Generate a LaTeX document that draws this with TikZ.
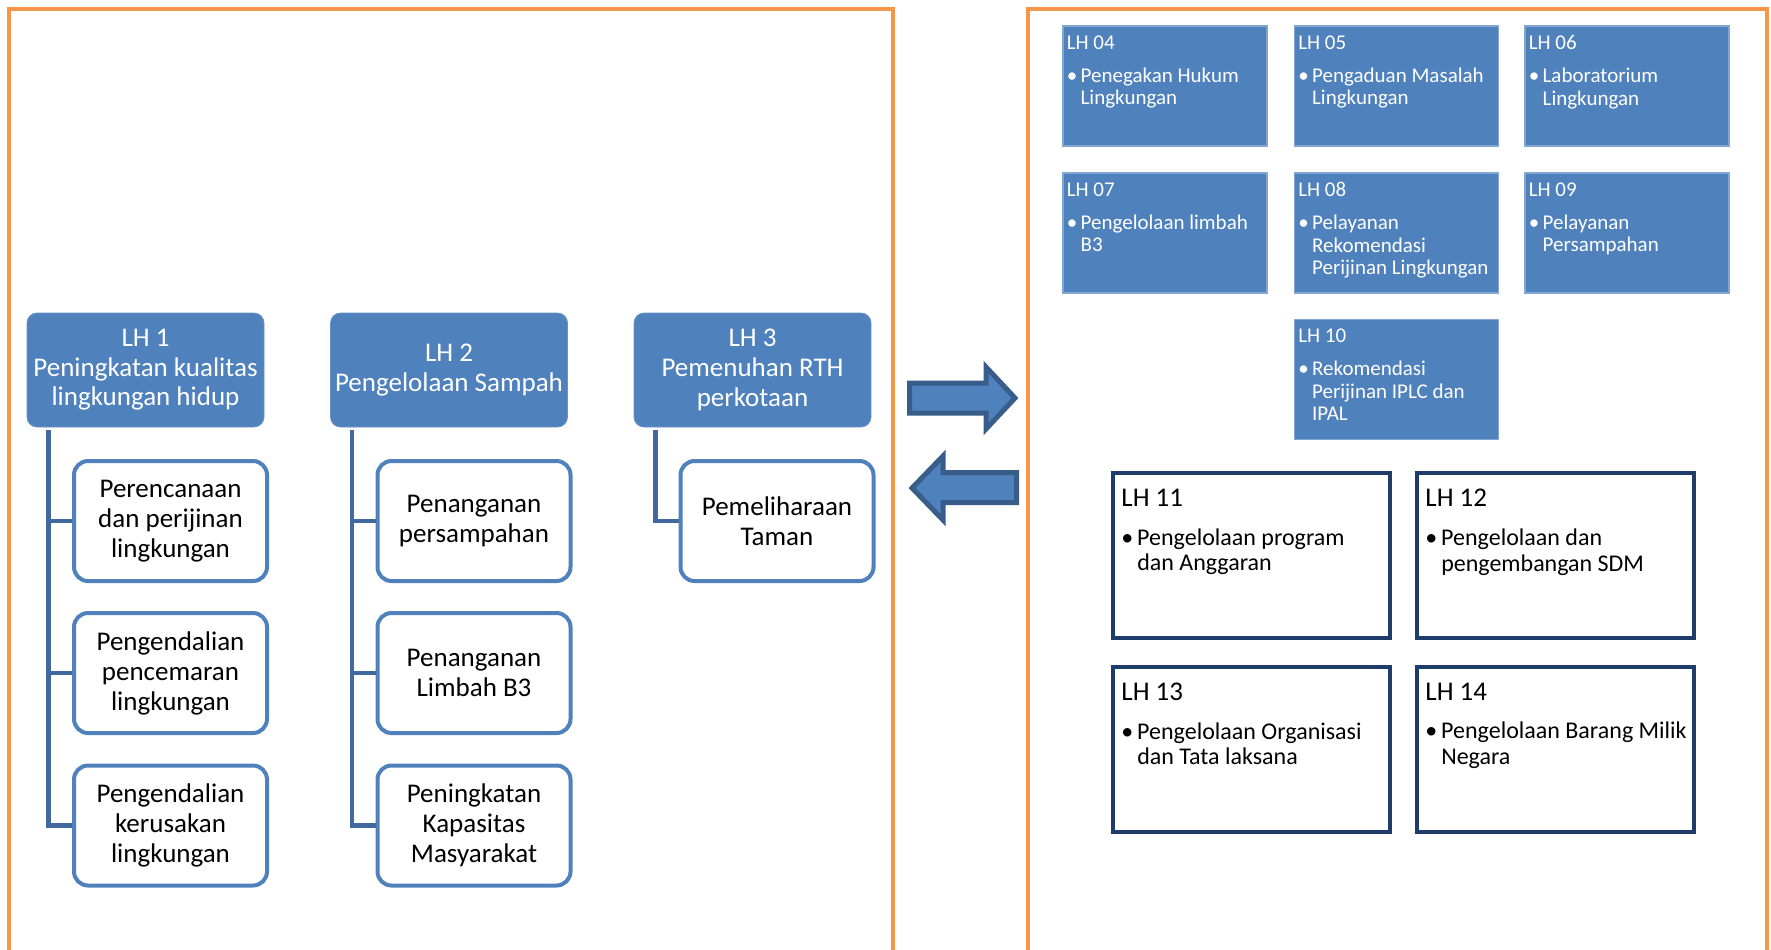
\documentclass[tikz,border=0pt]{standalone}
\usepackage{fontspec}
\setmainfont{Carlito}
\usetikzlibrary{positioning}

\definecolor{lhblue}{HTML}{4F81BD}
\definecolor{lhline}{HTML}{41699E}
\definecolor{lhnavy}{HTML}{1F3D6B}
\definecolor{lhdark}{HTML}{385D8A}
\definecolor{lhorange}{HTML}{F79646}

\newcommand{\lhitem}[1]{\makebox[0.66em][l]{\textbullet}\begin{tabular}[t]{@{}l@{}}#1\end{tabular}}

\tikzset{
  panel/.style={draw=lhorange, line width=2pt},
  headbox/.style={fill=lhblue, draw=lhblue!85!white, rounded corners=5pt, text=white, align=center,
    minimum width=118.5pt, minimum height=57pt, inner sep=0pt, font=\fontsize{13.5}{14.8}\selectfont},
  subbox/.style={draw=lhblue, line width=2pt, fill=white, rounded corners=7pt, align=center,
    minimum width=96.5pt, minimum height=60pt, inner sep=0pt, font=\fontsize{13.5}{15}\selectfont},
  treeline/.style={draw=lhline, line width=2.3pt},
  unitbox/.style={fill=lhblue, draw=lhblue!70!white, line width=0.6pt, minimum width=102pt, minimum height=60pt},
  unittext/.style={anchor=north west, text=white, align=left, inner sep=0pt, font=\fontsize{10.5}{11.3}\selectfont},
  bigbox/.style={draw=lhnavy, line width=2pt, fill=white, minimum width=138.5pt, minimum height=82.5pt},
  bigtext/.style={anchor=north west, align=left, inner sep=0pt, font=\fontsize{12}{12.8}\selectfont},
  blockarrow/.style={fill=lhblue, draw=lhdark, line width=2.5pt, line join=miter}
}

\begin{document}
\begin{tikzpicture}[x=0.5pt,y=-0.5pt]
\useasboundingbox (0,0) rectangle (1771,949);

% the two orange panels
\draw[panel] (9,960) -- (9,9) -- (893,9) -- (893,960);
\draw[panel] (1028,960) -- (1028,9) -- (1767,9) -- (1767,960);

% left panel: LH 1 .. LH 3
\node[headbox] (h1) at (145.5,370) {LH 1\\Peningkatan kualitas\\lingkungan hidup};
\node[headbox] (h2) at (449,370) {LH 2\\Pengelolaan Sampah};
\node[headbox] (h3) at (752.5,370) {LH 3\\Pemenuhan RTH\\perkotaan};

\node[subbox] (c11) at (170.5,521) {Perencanaan\\dan perijinan\\lingkungan};
\node[subbox] (c12) at (170.5,673) {Pengendalian\\pencemaran\\lingkungan};
\node[subbox] (c13) at (170.5,825.5) {Pengendalian\\kerusakan\\lingkungan};

\node[subbox] (c21) at (474,521) {Penanganan\\persampahan};
\node[subbox] (c22) at (474,673) {Penanganan\\Limbah B3};
\node[subbox] (c23) at (474,825.5) {Peningkatan\\Kapasitas\\Masyarakat};

\node[subbox] (c31) at (777,521) {Pemeliharaan\\Taman};

\foreach \c in {c11,c12,c13}
  \draw[treeline] ([xshift=11pt,yshift=-1.5pt]h1.south west) |- (\c.west);
\foreach \c in {c21,c22,c23}
  \draw[treeline] ([xshift=11pt,yshift=-1.5pt]h2.south west) |- (\c.west);
\draw[treeline] ([xshift=11pt,yshift=-1.5pt]h3.south west) |- (c31.west);

% arrows between the panels
\draw[blockarrow] (909.5,383) -- (986,383) -- (986,367) -- (1015,398) -- (986,429) -- (986,413) -- (909.5,413) -- cycle;
\draw[blockarrow] (1016.5,472.5) -- (943,472.5) -- (943,456) -- (912,488) -- (943,520) -- (943,502.5) -- (1016.5,502.5) -- cycle;

% right panel: LH 04 .. LH 10
\foreach \nm/\x/\y/\txt in {
    04/1165/86/{Penegakan Hukum\\Lingkungan},
    05/1396.5/86/{Pengaduan Masalah\\Lingkungan},
    06/1627/86/{Laboratorium\\Lingkungan},
    07/1165/233/{Pengelolaan limbah\\B3},
    08/1396.5/233/{Pelayanan\\Rekomendasi\\Perijinan Lingkungan},
    09/1627/233/{Pelayanan\\Persampahan},
    10/1396.5/379.5/{Rekomendasi\\Perijinan IPLC dan\\IPAL}} {
  \node[unitbox] (u\nm) at (\x,\y) {};
  \node[unittext] (t\nm) at ([shift={(2pt,-4.8pt)}]u\nm.north west) {LH \nm\\[5.2pt]\lhitem{\txt}};
}

% right panel: LH 11 .. LH 14
\foreach \nm/\x/\y/\txt in {
    11/1251.5/555.5/{Pengelolaan program\\dan Anggaran},
    12/1555.5/555.5/{Pengelolaan dan\\pengembangan SDM},
    13/1251.5/749/{Pengelolaan Organisasi\\dan Tata laksana},
    14/1555.5/749/{Pengelolaan Barang Milik\\Negara}} {
  \node[bigbox] (b\nm) at (\x,\y) {};
  \node[bigtext] (t\nm) at ([shift={(5pt,-9pt)}]b\nm.north west) {{\fontsize{13.5}{12.8}\selectfont LH \nm}\\[6.5pt]\lhitem{\txt}};
}

\end{tikzpicture}
\end{document}
